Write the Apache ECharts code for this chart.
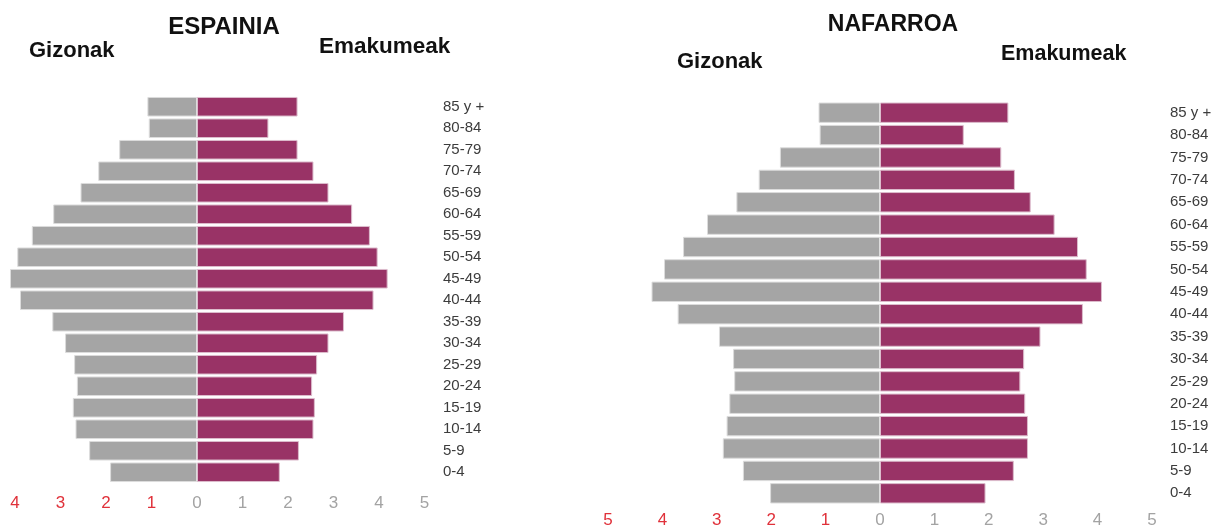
<!DOCTYPE html>
<html>
<head>
<meta charset="utf-8">
<script src="https://cdn.jsdelivr.net/npm/echarts@6/dist/echarts.min.js"></script>
<style>
html,body{margin:0;padding:0;background:#fff;}
#c{width:1216px;height:529px;}
</style>
</head>
<body>
<div id="c"></div>
<script>
// Age groups, top to bottom
const categories = ['85 y +','80-84','75-79','70-74','65-69','60-64','55-59','50-54','45-49','40-44','35-39','30-34','25-29','20-24','15-19','10-14','5-9','0-4'];
// ESPAINIA (%)
const espMen   = [1.09,1.06,1.71,2.17,2.56,3.16,3.63,3.95,4.11,3.89,3.18,2.90,2.70,2.64,2.73,2.67,2.37,1.91];
const espWomen = [2.21,1.57,2.21,2.56,2.89,3.41,3.80,3.97,4.19,3.88,3.23,2.89,2.64,2.53,2.59,2.56,2.24,1.82];
// NAFARROA (%)
const nafMen   = [1.13,1.11,1.84,2.23,2.64,3.18,3.62,3.97,4.20,3.72,2.96,2.70,2.68,2.77,2.82,2.89,2.52,2.02];
const nafWomen = [2.36,1.54,2.23,2.48,2.77,3.21,3.64,3.80,4.08,3.73,2.95,2.65,2.58,2.67,2.72,2.72,2.46,1.94];
// Axis tick labels
const leftTicks  = [-4,-3,-2,-1,0,1,2,3,4,5];
const rightTicks = [-5,-4,-3,-2,-1,0,1,2,3,4,5];
const titles = ['ESPAINIA','NAFARROA'];
const menLabel = 'Gizonak', womenLabel = 'Emakumeak';

const RED = '#e0313a', GRAY_TXT = '#a3a3a3';
const MEN_COLOR = '#a5a5a5', WOMEN_COLOR = '#993366';

function xAxisFor(gridIndex, ticks, margin) {
  return {
    type: 'value', gridIndex, min: -5, max: 5, interval: 1,
    axisLine: {show: false}, axisTick: {show: false}, splitLine: {show: false},
    axisLabel: {
      margin, fontSize: 17, fontFamily: 'Liberation Sans, Arial, sans-serif',
      formatter: v => ticks.indexOf(v) >= 0 ? String(Math.abs(v)) : '',
      color: v => (v < 0 ? RED : GRAY_TXT)
    }
  };
}
function yAxisFor(gridIndex, margin) {
  return {
    type: 'category', gridIndex, data: categories, inverse: true, position: 'right',
    axisLine: {show: false, onZero: false}, axisTick: {show: false}, splitLine: {show: false},
    axisLabel: {margin, align: 'left', fontSize: 15, color: '#3c3c3c', fontFamily: 'Liberation Sans, Arial, sans-serif'}
  };
}
function barSeries(idx, data, color, border, neg) {
  return {
    type: 'bar', xAxisIndex: idx, yAxisIndex: idx,
    data: data.map(v => neg ? -v : v),
    barGap: '-100%', barCategoryGap: '9%',
    itemStyle: {color, borderColor: border, borderWidth: 1},
    silent: true, animation: false
  };
}
const font = 'Liberation Sans, Arial, sans-serif';
function txt(x, y, text, size, align) {
  return {type: 'text', x, y, style: {text, fontSize: size, fontWeight: 'bold', fill: '#111', font: 'bold ' + size + 'px ' + font, textAlign: align || 'left', textVerticalAlign: 'middle'}};
}

const chart = echarts.init(document.getElementById('c'));
chart.setOption({
  animation: false,
  backgroundColor: '#fff',
  grid: [
    {left: -30.5, width: 455, top: 96, height: 387, containLabel: false, outerBoundsMode: 'none'},
    {left: 608, width: 544, top: 101.5, height: 403, containLabel: false, outerBoundsMode: 'none'}
  ],
  xAxis: [xAxisFor(0, leftTicks, 12), xAxisFor(1, rightTicks, 7)],
  yAxis: [yAxisFor(0, 18.5), yAxisFor(1, 18)],
  series: [
    barSeries(0, espMen, MEN_COLOR, '#dcdcdc', true),
    barSeries(0, espWomen, WOMEN_COLOR, '#dcbccc', false),
    barSeries(1, nafMen, MEN_COLOR, '#dcdcdc', true),
    barSeries(1, nafWomen, WOMEN_COLOR, '#dcbccc', false)
  ],
  graphic: [
    txt(224, 27, titles[0], 24, 'center'),
    txt(29, 51, menLabel, 22),
    txt(319, 47, womenLabel, 22.5),
    txt(893, 25, titles[1], 23, 'center'),
    txt(677, 62, menLabel, 22),
    txt(1001, 54, womenLabel, 21.5)
  ]
});
</script>
</body>
</html>
